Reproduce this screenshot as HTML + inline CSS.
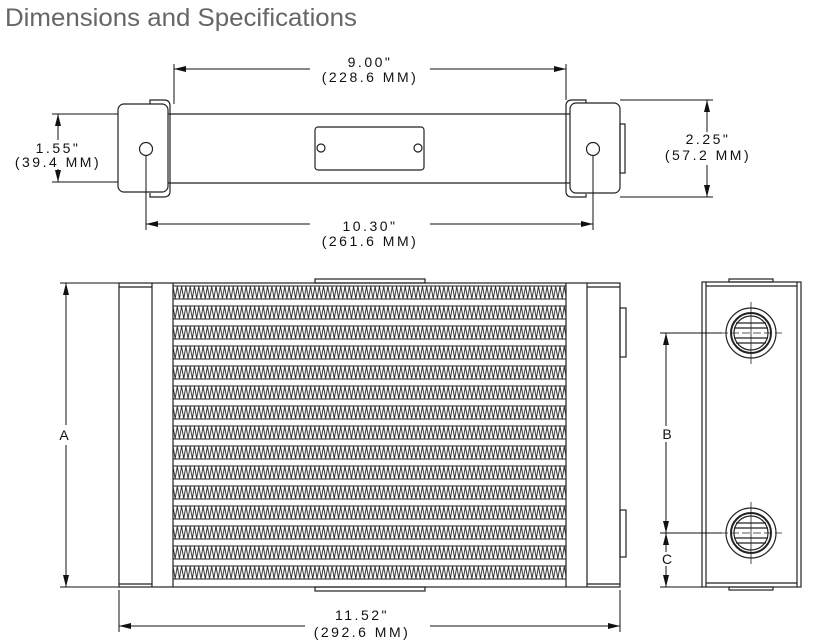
<!DOCTYPE html>
<html><head><meta charset="utf-8"><style>
html,body{margin:0;padding:0;background:#fff;}
svg{display:block;}
.d{font-family:"Liberation Sans",sans-serif;font-size:14px;letter-spacing:2.5px;fill:#111;text-anchor:middle;}
</style></head><body>
<svg width="818" height="644" viewBox="0 0 818 644" xmlns="http://www.w3.org/2000/svg">
<defs>
<marker id="a" viewBox="0 0 12 6" refX="12" refY="3" markerWidth="12" markerHeight="6" orient="auto-start-reverse" markerUnits="userSpaceOnUse"><path d="M0,0 L12,3 L0,6z" fill="#111"/></marker>
<pattern id="z" x="173" y="286" width="4.3" height="20" patternUnits="userSpaceOnUse"><path d="M0,0.5 L2.15,12.5 L4.3,0.5" fill="none" stroke="#222" stroke-width="0.9"/></pattern>
</defs>
<text x="5" y="26" font-family="Liberation Sans, sans-serif" font-size="25" fill="#666" textLength="352" lengthAdjust="spacingAndGlyphs">Dimensions and Specifications</text>

<g stroke="#222" fill="none" stroke-width="1.2">
<line x1="168" y1="114" x2="570" y2="114"/><line x1="168" y1="183" x2="570" y2="183"/>
<rect x="118" y="104" width="50" height="88" rx="6"/>
<path d="M150,104 V100 H164 Q170,100 170,106 V191 Q170,197 164,197 H150 V193"/>
<circle cx="146" cy="149" r="6.5"/>
<rect x="570" y="103" width="50" height="90" rx="6"/>
<path d="M586,103 V100 H572 Q566,100 566,106 V191 Q566,197 572,197 H586 V194"/>
<rect x="620" y="124" width="5" height="49"/>
<circle cx="593" cy="149" r="6.5"/>
<rect x="315" y="127" width="109" height="43" rx="3"/>
<circle cx="321" cy="148" r="4"/><circle cx="418" cy="148" r="4"/>
</g>
<g stroke="#111" stroke-width="1">
<line x1="174" y1="64" x2="174" y2="104"/><line x1="566" y1="64" x2="566" y2="100"/>
<line x1="174" y1="69" x2="310" y2="69" marker-start="url(#a)"/><line x1="430" y1="69" x2="566" y2="69" marker-end="url(#a)"/>
<line x1="146" y1="156" x2="146" y2="230"/><line x1="593" y1="156" x2="593" y2="230"/>
<line x1="146" y1="224" x2="310" y2="224" marker-start="url(#a)"/><line x1="430" y1="224" x2="593" y2="224" marker-end="url(#a)"/>
<line x1="52" y1="114" x2="118" y2="114"/><line x1="52" y1="182" x2="118" y2="182"/>
<line x1="58" y1="114" x2="58" y2="140" marker-start="url(#a)"/><line x1="58" y1="169" x2="58" y2="182" marker-end="url(#a)"/>
<line x1="620" y1="100" x2="713" y2="100"/><line x1="620" y1="197" x2="713" y2="197"/>
<line x1="707" y1="100" x2="707" y2="132" marker-start="url(#a)"/><line x1="707" y1="165" x2="707" y2="197" marker-end="url(#a)"/>
</g>
<text class="d" x="370" y="67">9.00"</text>
<text class="d" x="370" y="82">(228.6 MM)</text>
<text class="d" x="370" y="231">10.30"</text>
<text class="d" x="370" y="246">(261.6 MM)</text>
<text class="d" x="58" y="153">1.55"</text>
<text class="d" x="58" y="167">(39.4 MM)</text>
<text class="d" x="708" y="144">2.25"</text>
<text class="d" x="708" y="160">(57.2 MM)</text>

<g stroke="#222" fill="none" stroke-width="1.2">
<rect x="119" y="283" width="501" height="304"/>
<line x1="152" y1="283" x2="152" y2="587"/><line x1="173" y1="283" x2="173" y2="587"/>
<line x1="566" y1="283" x2="566" y2="587"/><line x1="587" y1="283" x2="587" y2="587"/>
<line x1="119" y1="287" x2="152" y2="287"/><line x1="587" y1="287" x2="620" y2="287"/>
<line x1="119" y1="584" x2="152" y2="584"/><line x1="587" y1="584" x2="620" y2="584"/>
<rect x="620" y="308" width="6" height="49"/><rect x="620" y="510" width="6" height="47"/>
<rect x="315" y="279" width="110" height="4"/><rect x="315" y="587" width="110" height="4"/>
</g>
<g fill="url(#z)" stroke="#222">
<rect x="173" y="286" width="393" height="13"/>
<rect x="173" y="306" width="393" height="13"/>
<rect x="173" y="326" width="393" height="13"/>
<rect x="173" y="346" width="393" height="13"/>
<rect x="173" y="366" width="393" height="13"/>
<rect x="173" y="386" width="393" height="13"/>
<rect x="173" y="406" width="393" height="13"/>
<rect x="173" y="426" width="393" height="13"/>
<rect x="173" y="446" width="393" height="13"/>
<rect x="173" y="466" width="393" height="13"/>
<rect x="173" y="486" width="393" height="13"/>
<rect x="173" y="506" width="393" height="13"/>
<rect x="173" y="526" width="393" height="13"/>
<rect x="173" y="546" width="393" height="13"/>
<rect x="173" y="566" width="393" height="13"/>
</g>
<g stroke="#111" stroke-width="1">
<line x1="60" y1="283" x2="119" y2="283"/><line x1="60" y1="587" x2="119" y2="587"/>
<line x1="66" y1="283" x2="66" y2="425" marker-start="url(#a)"/><line x1="66" y1="445" x2="66" y2="587" marker-end="url(#a)"/>
<line x1="119" y1="590" x2="119" y2="632"/><line x1="620" y1="590" x2="620" y2="632"/>
<line x1="119" y1="626" x2="305" y2="626" marker-start="url(#a)"/><line x1="430" y1="626" x2="620" y2="626" marker-end="url(#a)"/>
</g>
<text class="d" x="64" y="440" style="letter-spacing:0">A</text>
<text class="d" x="362" y="620">11.52"</text>
<text class="d" x="362" y="637">(292.6 MM)</text>

<g stroke="#222" fill="none" stroke-width="1.2">
<rect x="702" y="282" width="99" height="305"/>
<line x1="706" y1="282" x2="706" y2="587"/><line x1="797" y1="282" x2="797" y2="587"/>
<line x1="706" y1="286" x2="797" y2="286"/><line x1="706" y1="583" x2="797" y2="583"/>
<rect x="729" y="279" width="44" height="3"/><rect x="729" y="587" width="44" height="3"/>
<g>
<circle cx="751" cy="333" r="25"/><circle cx="751" cy="333" r="20" stroke-width="2"/><circle cx="751" cy="333" r="17"/>
<line x1="736" y1="323" x2="766" y2="323"/><line x1="734" y1="328" x2="768" y2="328"/><line x1="734" y1="338" x2="768" y2="338"/><line x1="736" y1="343" x2="766" y2="343"/>
<line x1="751" y1="302" x2="751" y2="364" stroke-width="0.8"/><line x1="720" y1="333" x2="782" y2="333" stroke-width="0.8" stroke-dasharray="8,3"/>
</g>
<g transform="translate(0,200)">
<circle cx="751" cy="333" r="25"/><circle cx="751" cy="333" r="20" stroke-width="2"/><circle cx="751" cy="333" r="17"/>
<line x1="736" y1="323" x2="766" y2="323"/><line x1="734" y1="328" x2="768" y2="328"/><line x1="734" y1="338" x2="768" y2="338"/><line x1="736" y1="343" x2="766" y2="343"/>
<line x1="751" y1="302" x2="751" y2="364" stroke-width="0.8"/><line x1="720" y1="333" x2="782" y2="333" stroke-width="0.8" stroke-dasharray="8,3"/>
</g>
</g>
<g stroke="#111" stroke-width="1">
<line x1="660" y1="333" x2="722" y2="333"/><line x1="660" y1="533" x2="722" y2="533"/><line x1="660" y1="587" x2="702" y2="587"/>
<line x1="666" y1="333" x2="666" y2="426" marker-start="url(#a)"/><line x1="666" y1="442" x2="666" y2="533" marker-end="url(#a)"/>
<line x1="666" y1="533" x2="666" y2="552" marker-start="url(#a)"/><line x1="666" y1="566" x2="666" y2="587" marker-end="url(#a)"/>
</g>
<text class="d" x="667" y="439" style="letter-spacing:0">B</text>
<text class="d" x="667" y="564" style="letter-spacing:0">C</text>
</svg>
</body></html>
